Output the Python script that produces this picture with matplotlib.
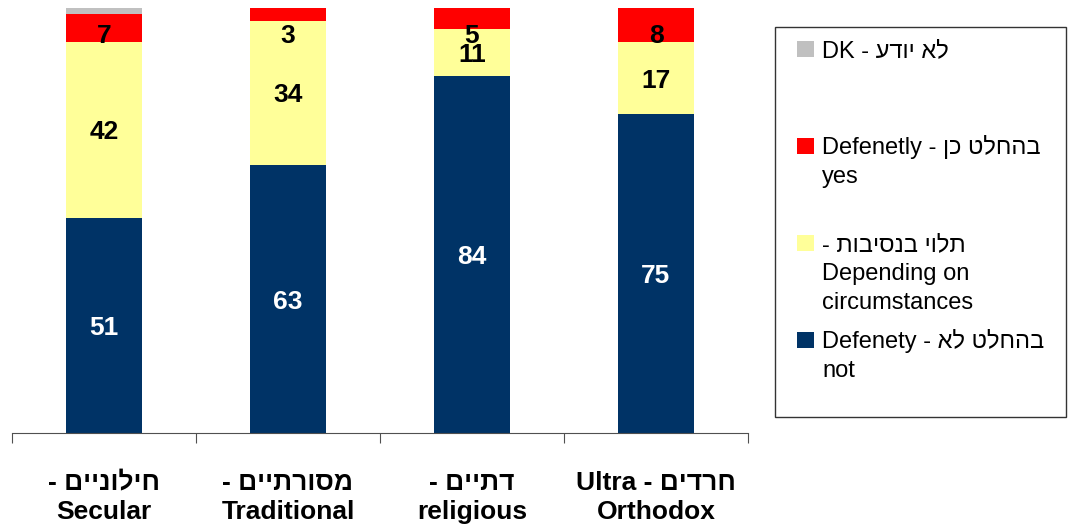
import numpy as np
import matplotlib.pyplot as plt
from matplotlib.patches import Rectangle
from matplotlib.transforms import Affine2D

plt.rcParams['font.family'] = ['Liberation Sans', 'DejaVu Sans']


def rtl(s):
    # matplotlib has no bidi support: give Hebrew in visual order
    return s[::-1]


# data
groups_he = ["חילוניים", "מסורתיים", "דתיים", "חרדים"]
groups_en = ["Secular", "Traditional", "religious", "Orthodox"]
not_at_all = [50.6, 63, 84, 75]
depending = [41.5, 34, 11, 17]
definitely_yes = [6.6, 3, 5, 8]
dont_know = [1.3, 0, 0, 0]

tick_labels = [
    "- " + rtl(groups_he[0]) + "\n" + groups_en[0],
    "- " + rtl(groups_he[1]) + "\n" + groups_en[1],
    "- " + rtl(groups_he[2]) + "\n" + groups_en[2],
    "Ultra - " + rtl(groups_he[3]) + "\n" + groups_en[3],
]

legend_entries = [
    ("#C0C0C0", ["DK - " + rtl("לא יודע")]),
    ("#FF0000", ["Defenetly - " + rtl("בהחלט כן"), "yes"]),
    ("#FFFF99", ["- " + rtl("תלוי בנסיבות"), "Depending on", "circumstances"]),
    ("#003366", ["Defenety - " + rtl("בהחלט לא"), "not"]),
]

series = [
    (not_at_all, "#003366", "white"),
    (depending, "#FFFF99", "black"),
    (definitely_yes, "#FF0000", "black"),
    (dont_know, "#C0C0C0", None),
]

W, H = 1068, 529
fig = plt.figure(figsize=(W / 100, H / 100), dpi=100)
ax = fig.add_axes([12 / W, 96 / H, 736 / W, 425 / H])

x = np.arange(len(groups_en))
bottom = np.zeros(len(x))
for vals, color, tcolor in series:
    vals = np.array(vals, dtype=float)
    ax.bar(x, vals, 0.41, bottom=bottom, color=color, edgecolor="none")
    if tcolor is not None:
        for i, v in enumerate(vals):
            if v <= 0:
                continue
            # labels near the top are kept inside the plot area
            y = min(bottom[i] + v / 2, 94.0)
            ax.text(x[i], y, f"{v:.0f}", ha="center", va="center_baseline",
                    fontsize=19, fontweight="bold", color=tcolor)
    bottom += vals

ax.set_xlim(-0.5, len(x) - 0.5)
ax.set_ylim(0, 100)
for s in ["left", "right", "top"]:
    ax.spines[s].set_visible(False)
ax.spines["bottom"].set_color("#505050")
ax.set_yticks([])
ax.set_xticks(np.arange(len(x) + 1) - 0.5)
ax.set_xticklabels([])
ax.tick_params(axis="x", which="major", length=7, color="#505050")
ax.set_xticks(x, minor=True)
ax.set_xticklabels(tick_labels, minor=True, fontsize=19, fontweight="bold",
                   linespacing=1.3)
ax.tick_params(axis="x", which="minor", length=0, pad=27)

# legend, drawn by hand in pixel coordinates (origin top-left)
pix = Affine2D().scale(1 / W, -1 / H).translate(0, 1) + fig.transFigure
fig.add_artist(Rectangle((775, 27), 291, 390, transform=pix, fill=False,
                         edgecolor="#333333", lw=1))
for k, (color, lines) in enumerate(legend_entries):
    base = 57 + 97 * k
    fig.add_artist(Rectangle((797, base - 16), 17, 16, transform=pix,
                             facecolor=color, edgecolor="none"))
    for j, line in enumerate(lines):
        fig.text(822, base + 29 * j, line, transform=pix, ha="left",
                 va="baseline", fontsize=17)

fig.savefig("out.png", dpi=100)
